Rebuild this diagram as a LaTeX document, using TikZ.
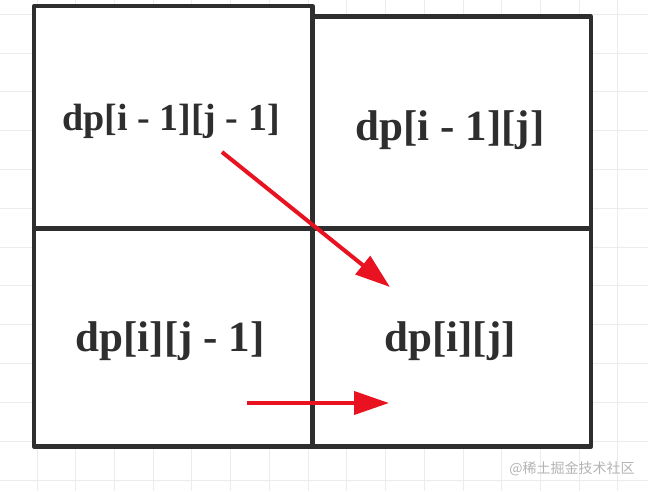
\documentclass[tikz,border=0pt]{standalone}
\usepackage{fontspec}
\setmainfont{Liberation Serif}
\newfontfamily\cjkfont{Noto Sans CJK SC}
\usetikzlibrary{arrows.meta}
\definecolor{gridgray}{RGB}{236,236,236}
\definecolor{boxgray}{RGB}{46,46,46}
\definecolor{arrowred}{RGB}{232,18,32}
\definecolor{markgray}{RGB}{180,180,180}

\begin{document}
\begin{tikzpicture}[x=1pt,y=-1pt,
  cell/.style={draw=boxgray,line width=4.5pt,fill=white,line join=round,
    minimum width=278.5pt,minimum height=218.3pt,inner sep=0pt},
  dptext/.style={font=\bfseries\fontsize{43}{45}\selectfont,text=boxgray},
  move/.style={-{Triangle[length=35pt,width=23pt]},draw=arrowred,line width=4pt}]
\fill [white] (0,0) rectangle (648,491);
\useasboundingbox (0,0) rectangle (648,491);
% paper grid
\foreach \i in {0,...,15}
  \draw [gridgray,line width=1pt] ({37+38.73*\i},0) -- ({37+38.73*\i},491);
\foreach \i in {0,...,12}
  \draw [gridgray,line width=1pt] (0,{14.2+38.82*\i}) -- (648,{14.2+38.82*\i});
% the four cells
\node [cell,minimum height=225.3pt] (upleft) at (173.25,118.85) {};
\node [cell,minimum height=211.3pt] (up) at (451.75,122.35) {};
\node [cell] (left) at (173.25,337.5) {};
\node [cell] (here) at (451.75,337.5) {};
\node [dptext,font=\bfseries\fontsize{38}{40}\selectfont] (upleftname) at (171,121) {dp[i - 1][j - 1]};
\node [dptext] (upname) at (450,130) {dp[i - 1][j]};
\node [dptext] (leftname) at (170,341) {dp[i][j - 1]};
\node [dptext] (herename) at (450,341) {dp[i][j]};
% moves into dp[i][j]
\coordinate (diagfrom) at (222,152);
\coordinate (diagto) at (390,287);
\coordinate (sidefrom) at (247,403);
\coordinate (sideto) at (389,403);
\draw [move] (diagfrom) -- (diagto);
\draw [move] (sidefrom) -- (sideto);
\node [font=\cjkfont\fontsize{14}{14}\selectfont,text=markgray] (mark) at (572,468.5) {@稀土掘金技术社区};
\end{tikzpicture}
\end{document}
